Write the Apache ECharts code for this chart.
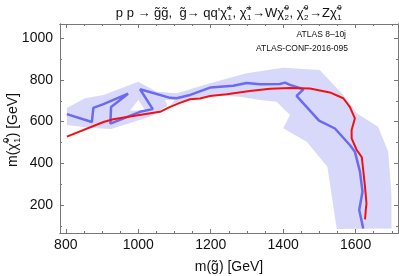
<!DOCTYPE html>
<html>
<head>
<meta charset="utf-8">
<script src="https://cdn.jsdelivr.net/npm/echarts@6/dist/echarts.min.js"></script>
<style>
html, body { margin: 0; padding: 0; background: #fff; }
#chart { width: 399px; height: 276px; }
</style>
</head>
<body>
<div id="chart"></div>
<script>
// axis ranges and ticks
var xRange = [784, 1717];
var yRange = [66, 1068];
var xTicks = [800, 1000, 1200, 1400, 1600];
var xMinorTicks = [850, 900, 950, 1050, 1100, 1150, 1250, 1300, 1350, 1450, 1500, 1550, 1650, 1700];
var yTicks = [200, 400, 600, 800, 1000];
var yMinorTicks = [100, 300, 500, 700, 900];

// red curve
var redLine = [[803,528],[904,598],[931,611],[986,627],[1060,647],[1088,671],[1115,690],[1143,707],
    [1170,711],[1198,723],[1244,731],[1308,747],[1364,758],[1419,761],[1474,759],[1529,740],[1566,712],
    [1584,671],[1598,616],[1589,560],[1589,520],[1603,464],[1617,430],[1621,368],[1626,286],[1630,208],
    [1628,176],[1626,131]];
// blue curve
var blueLine = [[803,636],[872,598],[876,666],[904,684],[972,734],[925,670],[923,590],[1005,647],
    [1040,660],[1005,755],[1088,714],[1106,712],[1140,726],[1200,764],[1262,772],[1299,785],[1336,779],
    [1391,780],[1405,787],[1419,776],[1456,755],[1437,723],[1499,605],[1543,567],[1584,488],[1598,456],
    [1612,360],[1619,264],[1610,176],[1621,88]];
// shaded band around the blue curve
var bandUpper = [[803,665],[853,712],[904,728],[1000,791],[1051,743],[1106,736],[1198,784],[1299,832],
    [1400,858],[1501,847],[1566,728],[1603,640],[1662,575],[1690,456],[1699,248],[1699,88]];
var bandLower = [[1548,85],[1522,384],[1465,504],[1400,568],[1419,632],[1382,695],[1336,704],[1281,719],
    [1198,728],[1115,694],[1074,670],[1038,627],[925,565],[872,569],[803,584]];
var bandHoles = [
    [[977,652],[1000,704],[1019,656]],
    [[1074,704],[1101,704],[1083,664]]
];

var FONT = '"Liberation Sans", Arial, sans-serif';
var AXIS_COLOR = '#777';

var measure = document.createElement('canvas').getContext('2d');
function textWidth(str, size){
    measure.font = size + 'px ' + FONT;
    return measure.measureText(str).width;
}
// pieces: [text, subscript, superscript]
function mathText(pieces, size, cx, cy, rotation){
    var items = [], x = 0, small = Math.round(size * 0.62);
    pieces.forEach(function(p){
        items.push([p[0], x, 0, size]);
        x += textWidth(p[0], size);
        var w = 0;
        if(p[1]){
            items.push([p[1], x + 0.5, Math.round(size * 0.38), small]);
            w = textWidth(p[1], small);
        }
        if(p[2]){
            items.push([p[2], x + 0.5, -Math.round(size * 0.42), small]);
            w = Math.max(w, textWidth(p[2], small));
        }
        x += w + (w ? 1 : 0);
    });
    var children = items.map(function(it){
        return {type: 'text', style: {text: it[0], x: it[1] - x / 2, y: it[2],
            font: it[3] + 'px ' + FONT, fill: '#111', textVerticalAlign: 'middle', verticalAlign: 'middle'}};
    });
    return {type: 'group', x: cx, y: cy, rotation: rotation || 0, children: children};
}

function frameAxis(pos, range, ticks, len, labels){
    return {
        type: 'value', position: pos, min: range[0], max: range[1],
        axisLine: {show: true, onZero: false, lineStyle: {color: AXIS_COLOR, width: 1}},
        axisTick: {show: true, inside: true, length: len, customValues: ticks, lineStyle: {color: AXIS_COLOR}},
        axisLabel: {show: labels, customValues: ticks, color: '#111', fontSize: 14, fontFamily: FONT,
            margin: pos === 'bottom' ? 5 : 7,
            formatter: function(v){ return String(v); }},
        splitLine: {show: false}
    };
}

var chi = '\u03C7\u0303', gl = 'g\u0303';
var polygons = [bandUpper.concat(bandLower)].concat(bandHoles);
var polyColors = ['#d8d8fb', '#ffffff', '#ffffff'];

var chart = echarts.init(document.getElementById('chart'));
chart.setOption({
    animation: false,
    grid: {left: 60, right: 1, top: 24, bottom: 43},
    xAxis: [
        frameAxis('bottom', xRange, xTicks, 4, true),
        frameAxis('top', xRange, xTicks, 4, false),
        frameAxis('bottom', xRange, xMinorTicks, 2, false),
        frameAxis('top', xRange, xMinorTicks, 2, false)
    ],
    yAxis: [
        frameAxis('left', yRange, yTicks, 4, true),
        frameAxis('right', yRange, yTicks, 4, false),
        frameAxis('left', yRange, yMinorTicks, 2, false),
        frameAxis('right', yRange, yMinorTicks, 2, false)
    ],
    series: [
        {
            type: 'custom', z: 1, silent: true, clip: true,
            data: polygons.map(function(p, i){ return [p[0][0], p[0][1], i]; }),
            renderItem: function(params, api){
                var pts = polygons[params.dataIndex].map(function(p){ return api.coord(p); });
                return {type: 'polygon', shape: {points: pts}, style: {fill: polyColors[params.dataIndex]}};
            }
        },
        {
            type: 'line', z: 2, data: blueLine, showSymbol: false, symbol: 'none',
            lineStyle: {color: '#6b6bf2', width: 2.5}
        },
        {
            type: 'line', z: 3, data: redLine, showSymbol: false, symbol: 'none',
            lineStyle: {color: '#f01212', width: 2}
        }
    ],
    graphic: [
        mathText([['p p \u2192 ' + gl + gl + ',  ' + gl + '\u2192 qq\'' + chi, '1', '\u00B1'],
            [', ' + chi, '1', '\u00B1'], ['\u2192W' + chi, '2', '0'], [', ' + chi, '2', '0'],
            ['\u2192Z' + chi, '1', '0']], 13, 229, 13),
        mathText([['m(' + gl + ') [GeV]']], 14, 229, 267),
        mathText([['m(' + chi, '1', '0'], [') [GeV]']], 14, 13, 130, Math.PI / 2),
        {type: 'text', x: 346, y: 35, style: {text: 'ATLAS 8\u201310j', font: '8.5px ' + FONT, fill: '#111',
            textAlign: 'right', align: 'right', textVerticalAlign: 'middle', verticalAlign: 'middle'}},
        {type: 'text', x: 348, y: 49, style: {text: 'ATLAS-CONF-2016-095', font: '8.5px ' + FONT, fill: '#111',
            textAlign: 'right', align: 'right', textVerticalAlign: 'middle', verticalAlign: 'middle'}}
    ]
});
</script>
</body>
</html>
